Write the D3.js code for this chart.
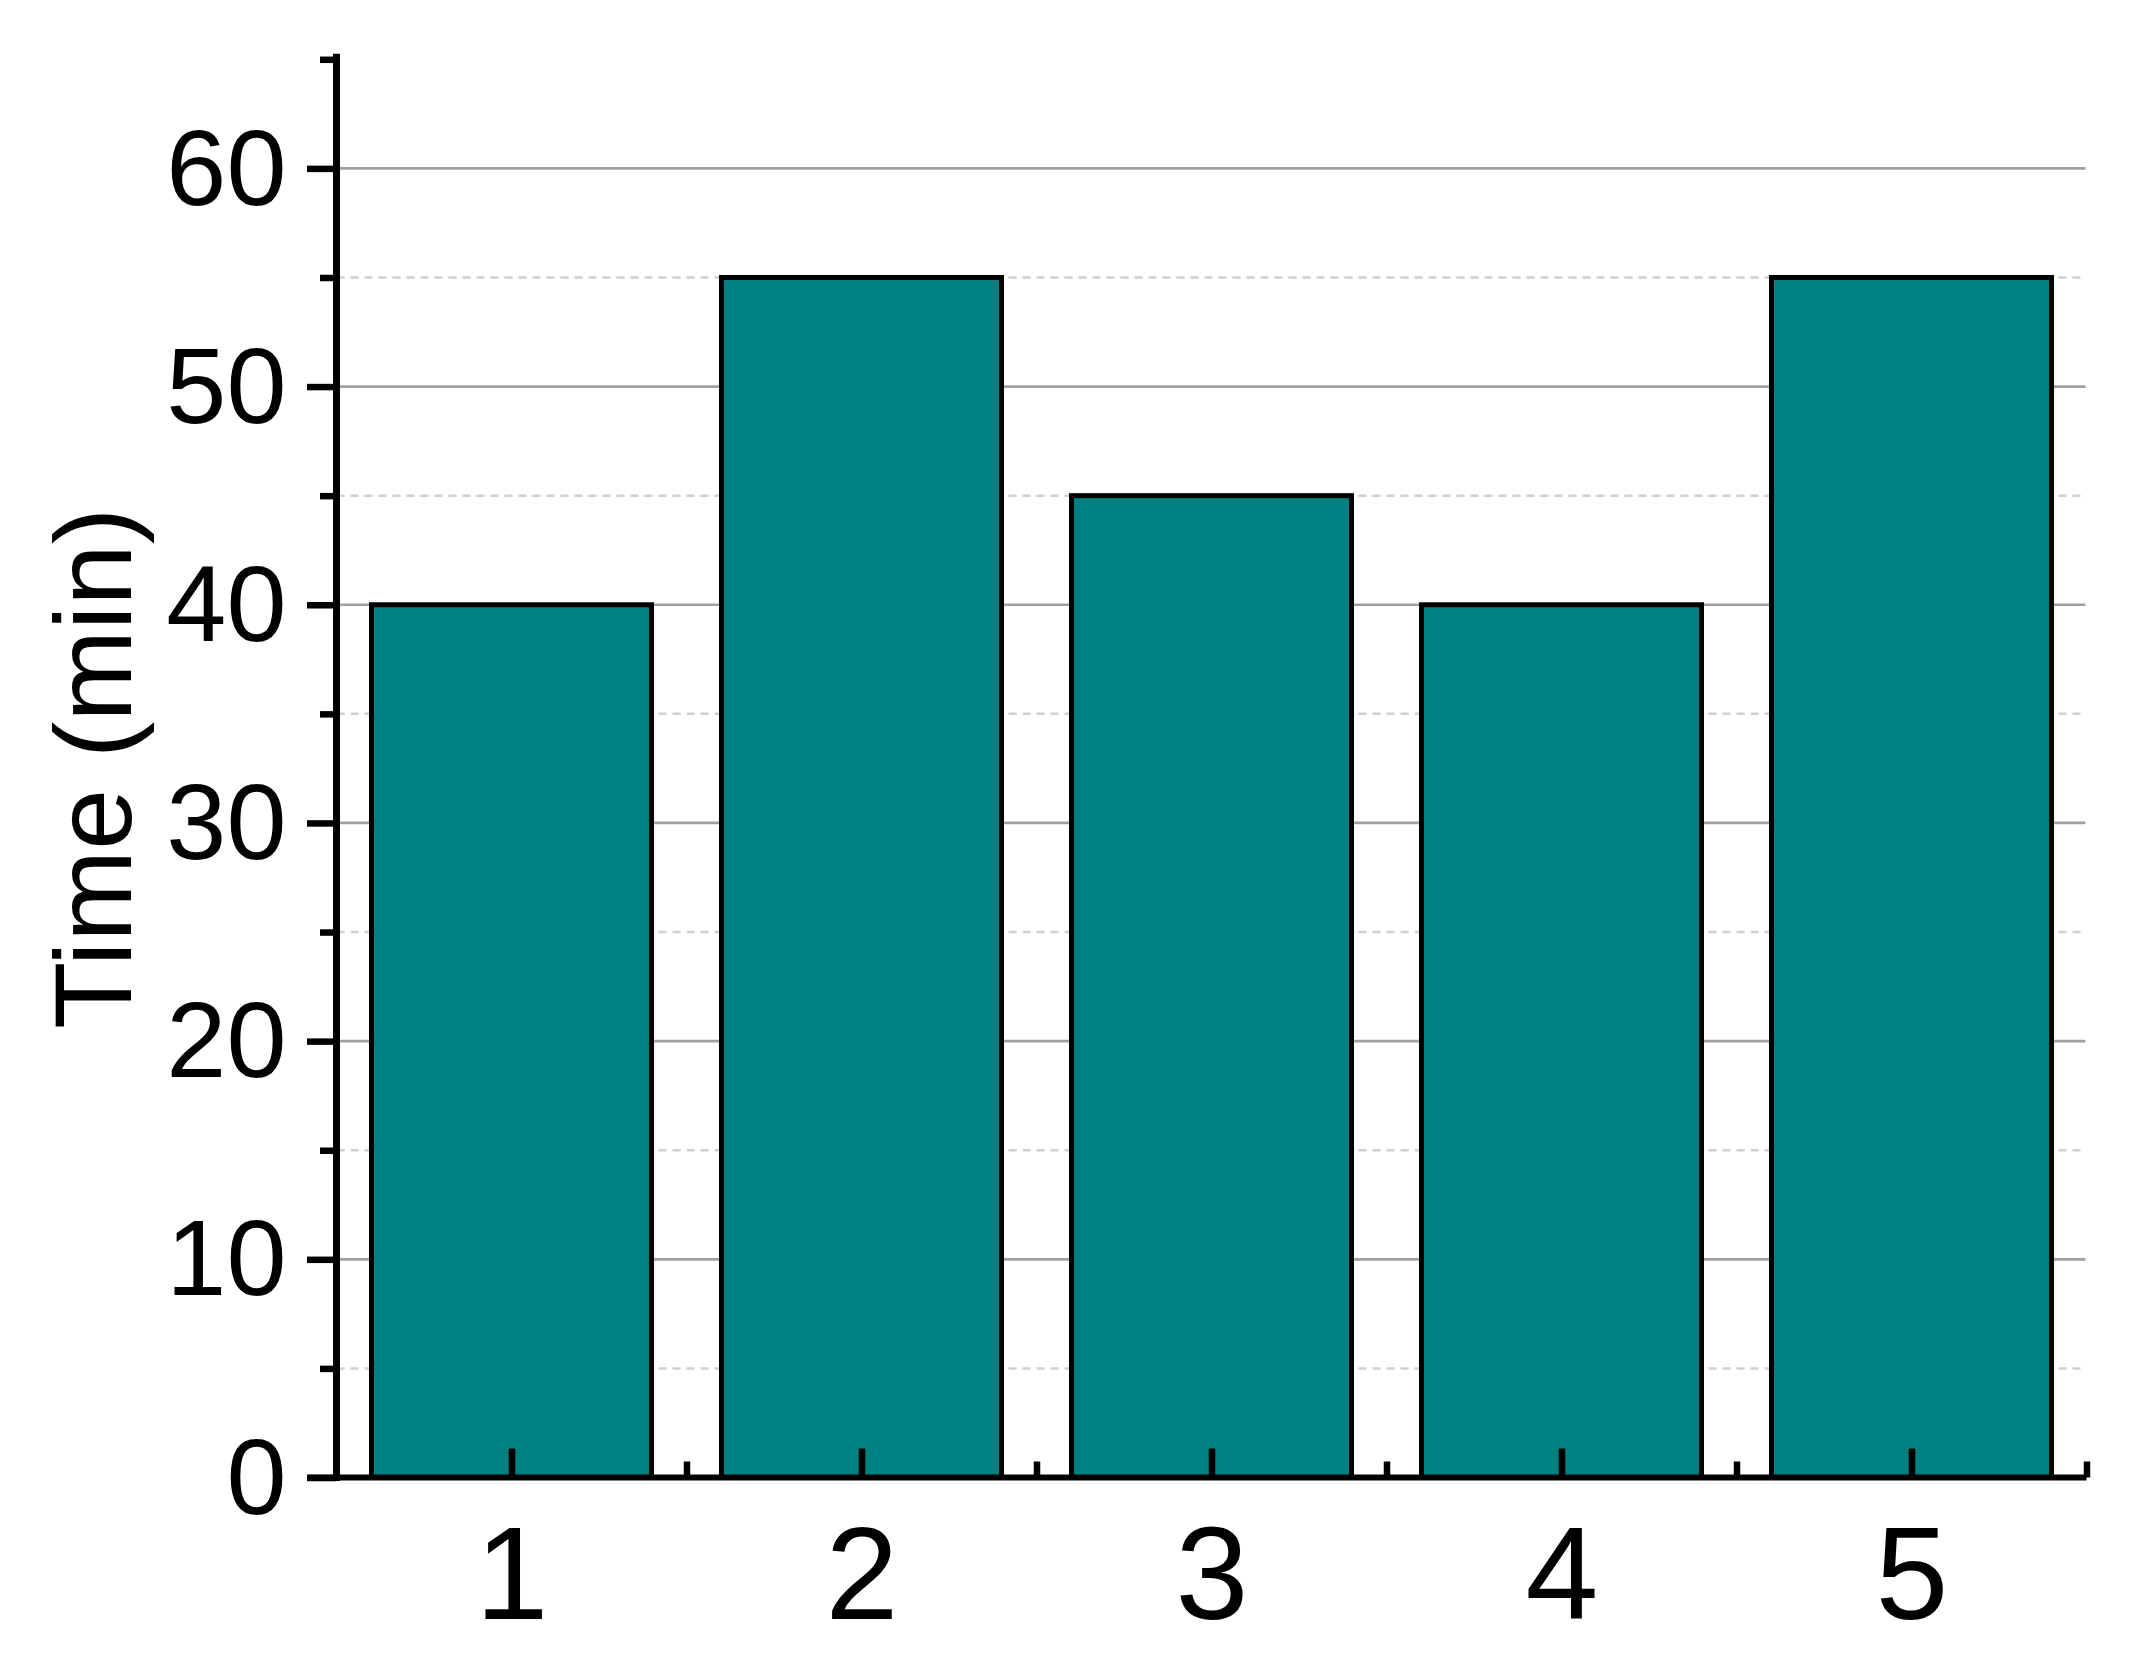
<!DOCTYPE html>
<html>
<head>
<meta charset="utf-8">
<script src="https://cdn.jsdelivr.net/npm/d3@7"></script>
<style>
    body { margin: 0; background: #fff; }
    text { font-family: 'Liberation Sans', Arial, sans-serif; fill: #000; }
</style>
</head>
<body>
<div class="bar-chart-container"></div>
<script>
// Data
const categories = [1, 2, 3, 4, 5];
const times = [40, 55, 45, 40, 55];
const yMajorTicks = [0, 10, 20, 30, 40, 50, 60];
const yMinorTicks = [5, 15, 25, 35, 45, 55, 65];
const xMinorTicks = [1.5, 2.5, 3.5, 4.5, 5.5];

const svg_width = 2137;
const svg_height = 1667;
const chart = { left: 336.5, right: 2086.5, top: 59.3, bottom: 1477.5 };

const svg = d3.select('.bar-chart-container').append('svg')
    .attr('width', svg_width).attr('height', svg_height)
    .style('background', '#fff');

// scales
const xScale = d3.scaleLinear([0.5, 5.5], [chart.left, chart.right]);
const yScale = d3.scaleLinear([0, 65], [chart.bottom, chart.top]);
const barWidth = xScale(1.4) - xScale(0.6);

// grid lines
const grid = svg.append('g').attr('class', 'grid');
grid.selectAll('.minor').data(yMinorTicks.filter(d => d < 65)).join('line')
    .attr('class', 'minor')
    .attr('x1', chart.left).attr('x2', chart.right - 1)
    .attr('y1', d => yScale(d)).attr('y2', d => yScale(d))
    .attr('stroke', '#cfcfcf').attr('stroke-width', 2.5)
    .attr('stroke-dasharray', '8,6');
grid.selectAll('.major').data(yMajorTicks.filter(d => d > 0)).join('line')
    .attr('class', 'major')
    .attr('x1', chart.left).attr('x2', chart.right - 1)
    .attr('y1', d => yScale(d)).attr('y2', d => yScale(d))
    .attr('stroke', '#a0a0a0').attr('stroke-width', 2.7);

// bars
svg.append('g').attr('class', 'bars')
    .selectAll('rect').data(categories).join('rect')
    .attr('x', (d, i) => xScale(d) - barWidth / 2)
    .attr('y', (d, i) => yScale(times[i]))
    .attr('width', barWidth)
    .attr('height', (d, i) => yScale(0) - yScale(times[i]))
    .attr('fill', '#008080')
    .attr('stroke', '#000').attr('stroke-width', 5);

// y axis (outward ticks)
const yAxisMinor = d3.axisLeft(yScale).tickValues(yMinorTicks).tickSize(16.5).tickFormat('');
const yAxisMajor = d3.axisLeft(yScale).tickValues(yMajorTicks).tickSize(29.5).tickPadding(20);
svg.append('g').attr('transform', `translate(${chart.left},0)`).call(yAxisMinor)
    .call(g => g.select('.domain').remove());
const yAxisDraw = svg.append('g').attr('class', 'y axis')
    .attr('transform', `translate(${chart.left},0)`).call(yAxisMajor)
    .call(g => g.select('.domain').remove());
yAxisDraw.selectAll('text')
    .style('font-size', '108px').attr('dy', '0.33em').attr('x', -50);

// x axis (inward ticks)
const xAxisMinor = d3.axisBottom(xScale).tickValues(xMinorTicks).tickSizeInner(-16).tickSizeOuter(0).tickFormat('');
const xAxisMajor = d3.axisBottom(xScale).tickValues(categories).tickFormat(d3.format('d'))
    .tickSizeInner(-29).tickSizeOuter(0);
svg.append('g').attr('transform', `translate(0,${chart.bottom})`).call(xAxisMinor)
    .call(g => g.select('.domain').remove());
const xAxisDraw = svg.append('g').attr('class', 'x axis')
    .attr('transform', `translate(0,${chart.bottom})`).call(xAxisMajor)
    .call(g => g.select('.domain').remove());
xAxisDraw.selectAll('text')
    .style('font-size', '131px').attr('y', 141).attr('dy', 0);

svg.selectAll('.tick line').attr('stroke', '#000').attr('stroke-width', 6.5);

// axis lines
svg.append('line')
    .attr('x1', chart.left).attr('x2', chart.left)
    .attr('y1', chart.bottom).attr('y2', chart.top - 2)
    .attr('stroke', '#000').attr('stroke-width', 7).attr('stroke-linecap', 'square');
svg.append('line')
    .attr('x1', chart.left - 29).attr('x2', chart.right)
    .attr('y1', chart.bottom).attr('y2', chart.bottom)
    .attr('stroke', '#000').attr('stroke-width', 6);

// y title
svg.append('text')
    .attr('transform', `translate(131,${(chart.top + chart.bottom) / 2}) rotate(-90)`)
    .attr('text-anchor', 'middle')
    .style('font-size', '110px')
    .text('Time (min)');
</script>
</body>
</html>
